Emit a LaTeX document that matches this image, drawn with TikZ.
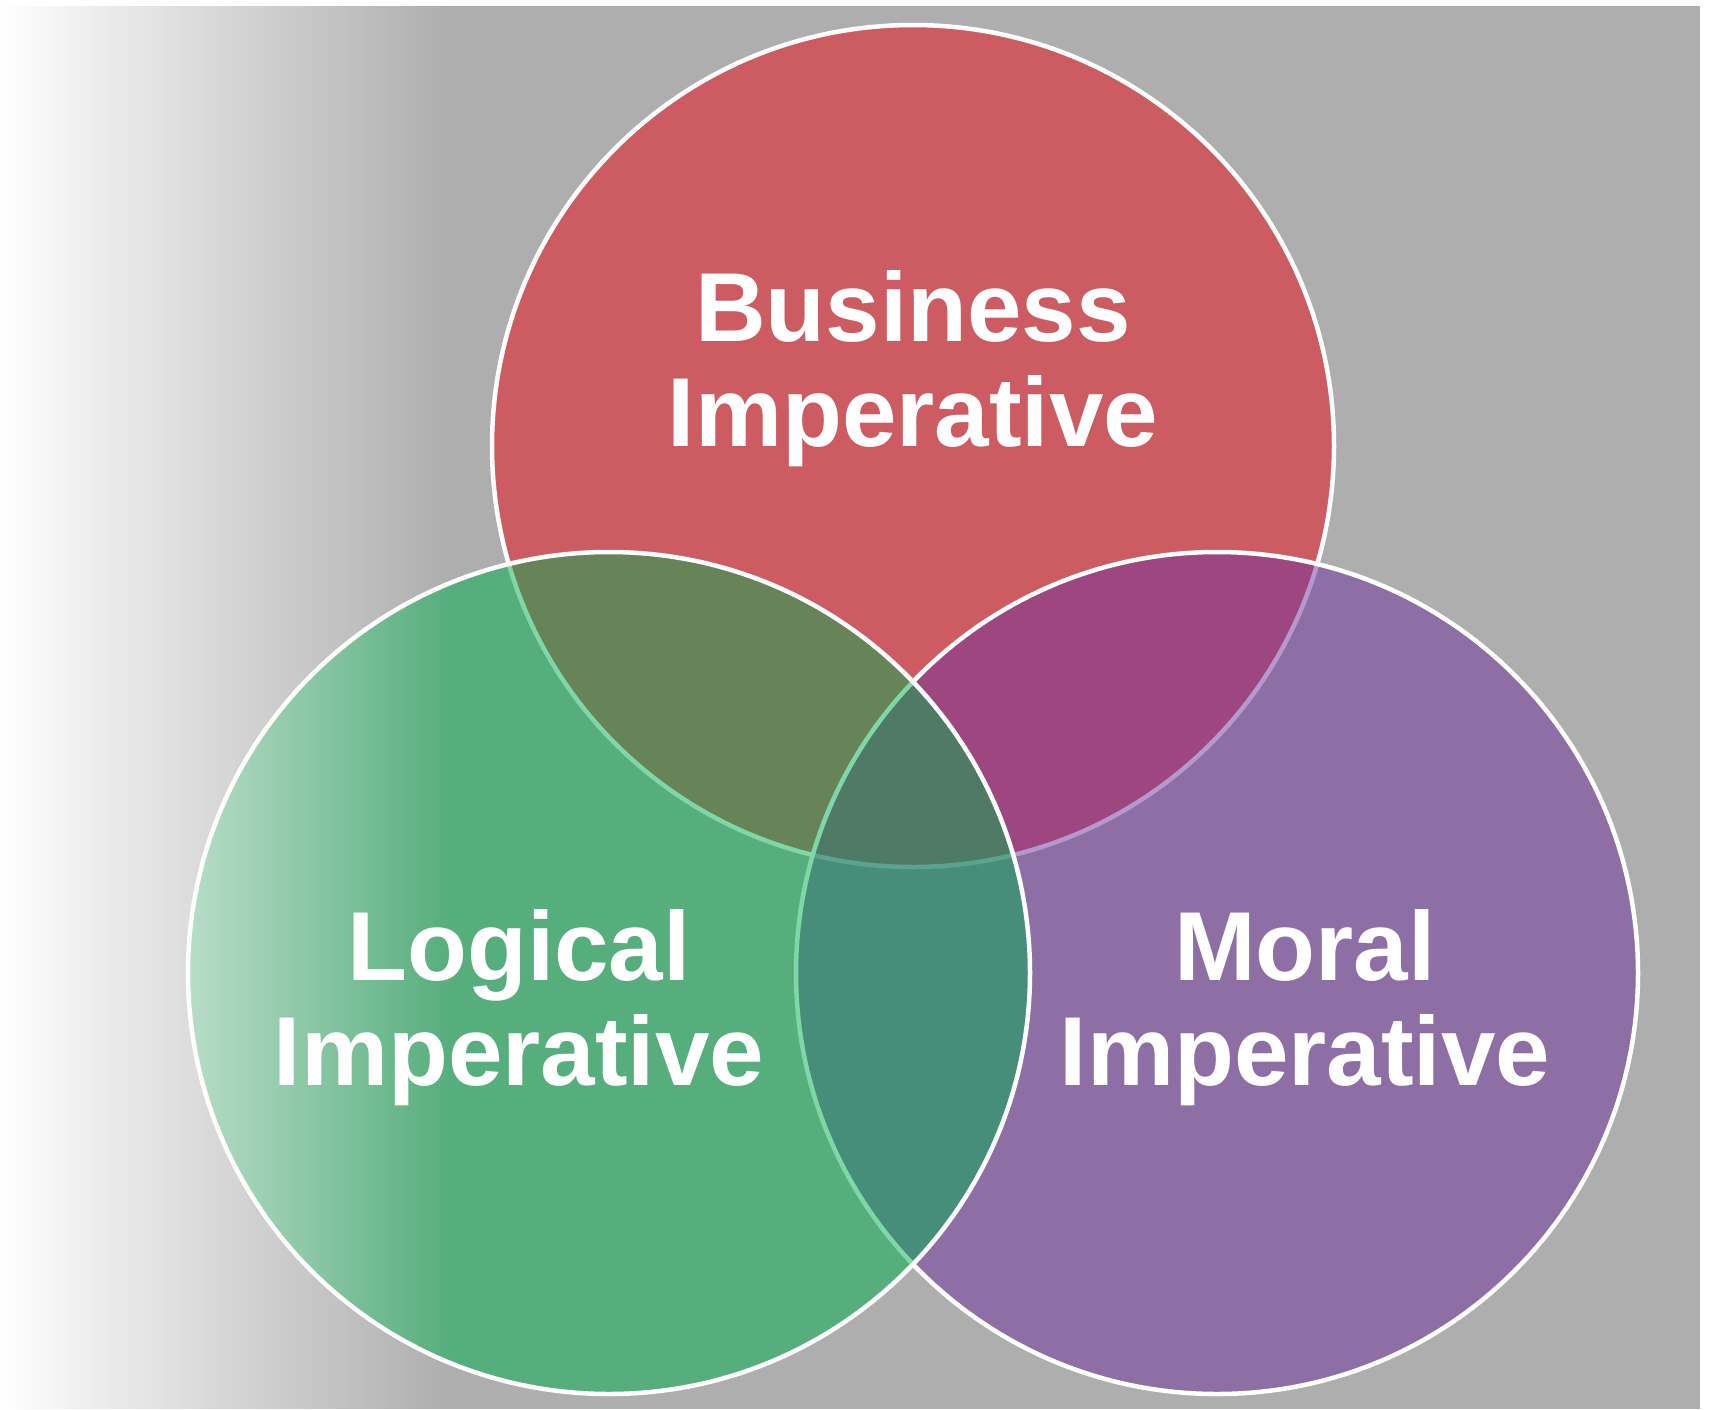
\documentclass[tikz,border=0pt]{standalone}
\usepackage{fontspec}
\setmainfont{Liberation Sans}
\usetikzlibrary{fadings}
\definecolor{bggray}{RGB}{174,174,174}
\definecolor{bizred}{RGB}{205,91,98}
\definecolor{morpur}{RGB}{110,50,158}
\definecolor{loggrn}{RGB}{0,174,78}
\tikzfading[name=fadeleft, left color=transparent!0, right color=transparent!100]
\tikzset{
  ring/.style ={circle,draw=white,line width=4.5pt,minimum size=842pt,inner sep=0pt},
  see/.style  ={fill opacity=0.5,draw opacity=1},
  lbl/.style  ={text=white,align=center,inner sep=0pt,font=\fontsize{98}{105}\selectfont\bfseries},
}

\begin{document}
\begin{tikzpicture}[x=1pt,y=-1pt]
  \useasboundingbox (0,0) rectangle (1713,1409);
  \fill[bggray] (0,6) rectangle (1700,1409);
  % the three sets, back to front
  \node[ring,fill=bizred] (biz) at (913,446) {};
  \node[ring,see,fill=morpur] (mor) at (1217,973) {};
  \node[ring,see,fill=loggrn] (log) at (609,973) {};
  % white wash over the left edge
  \fill[white,path fading=fadeleft] (0,0) rectangle (450,1409);
  \node[lbl] (tbiz) at (913,369) {Business\\Imperative};
  \node[lbl] (tlog) at (519,1008) {Logical\\Imperative};
  \node[lbl] (tmor) at (1305,1008) {Moral\\Imperative};
\end{tikzpicture}
\end{document}
